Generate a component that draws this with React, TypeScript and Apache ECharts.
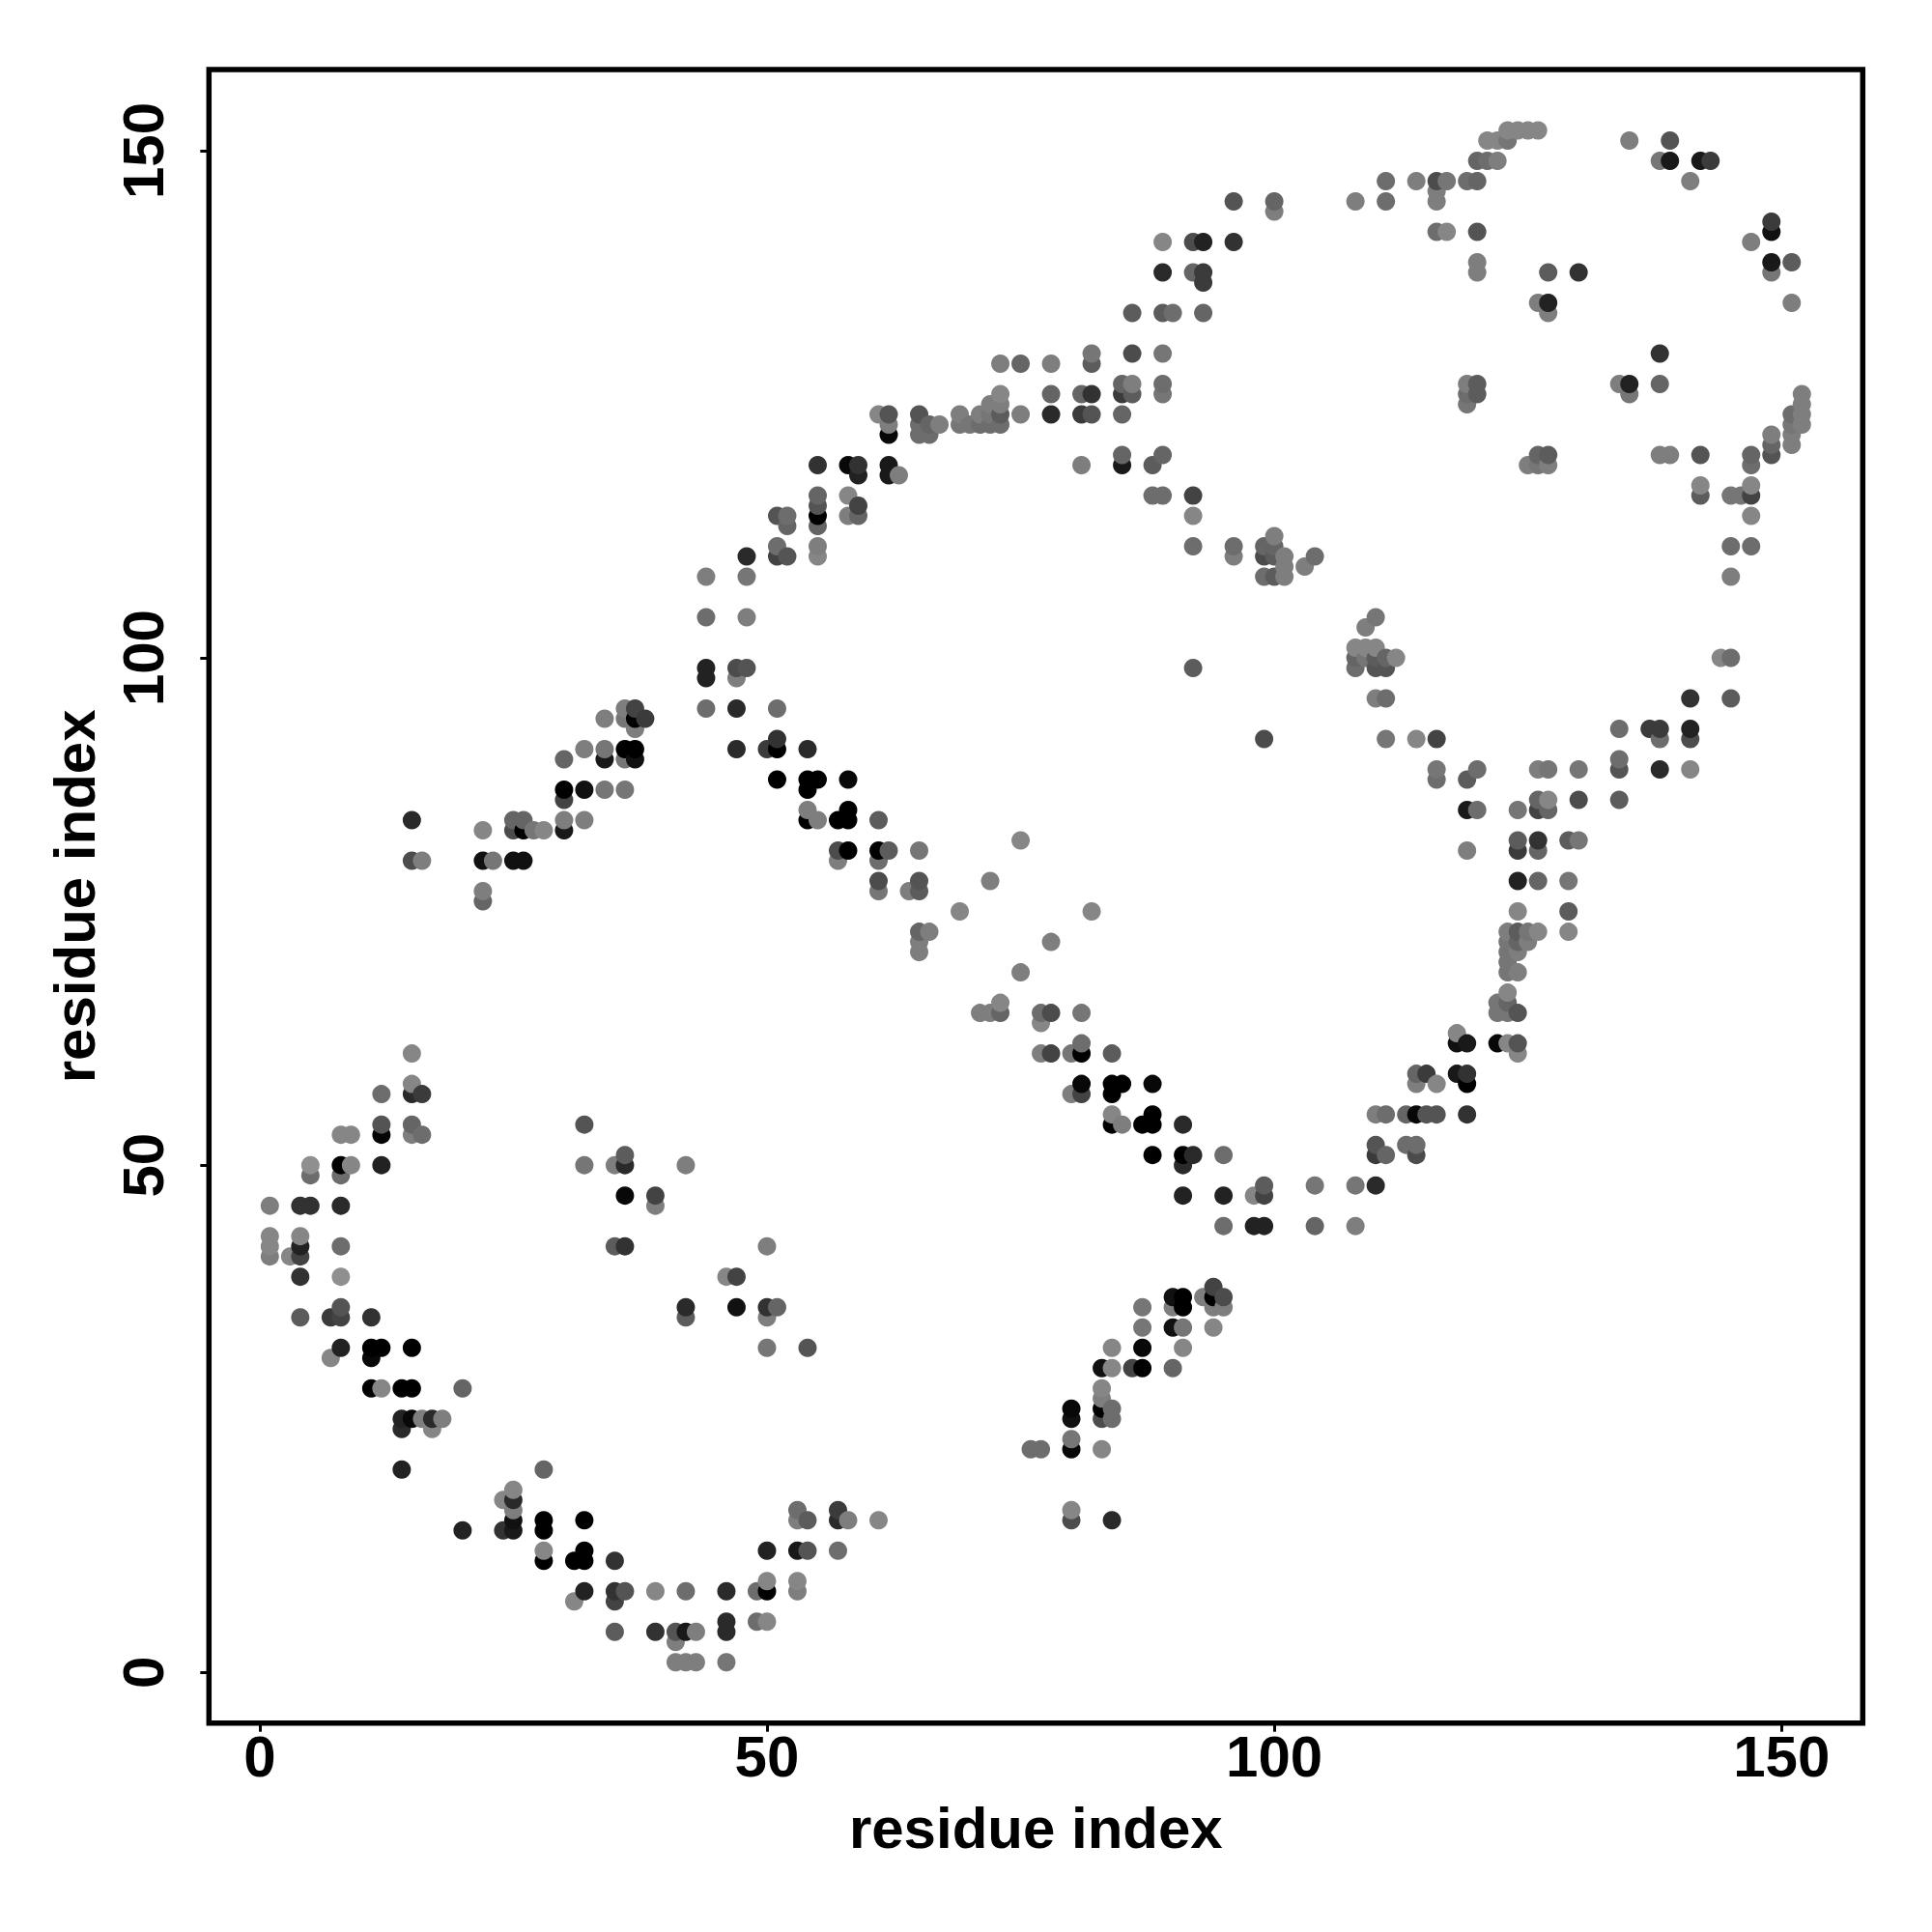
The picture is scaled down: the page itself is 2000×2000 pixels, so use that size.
import React, { useEffect, useRef } from "react";
import * as echarts from "echarts";

type Contact = [number, number, number]; // residue i, residue j, grey level

const lowerLeftArc: Contact[] = [
  [15,61,0x80],[15,58,0x80],[12,57,0x68],[15,57,0x28],[16,57,0x38],
  [12,54,0x50],[15,54,0x60],[8,53,0x80],[9,53,0x80],[12,53,0x05],[15,53,0x78],[16,53,0x68],
  [5,50,0x88],[8,50,0x00],[9,50,0x80],[12,50,0x20],[5,49,0x68],[8,49,0x68],
  [1,46,0x78],[4,46,0x30],[5,46,0x30],[8,46,0x28],
  [1,43,0x80],[4,43,0x80],[1,42,0x80],[4,42,0x20],[8,42,0x68],[1,41,0x78],[3,41,0x80],[4,41,0x40],
  [4,39,0x30],[8,39,0x88],[8,36,0x50],[4,35,0x58],[7,35,0x38],[8,35,0x40],[11,35,0x30],
  [8,32,0x20],[11,32,0x00],[12,32,0x00],[15,32,0x00],[7,31,0x80],[11,31,0x08],
  [11,28,0x00],[12,28,0x80],[14,28,0x00],[15,28,0x00],[20,28,0x60],
  [14,25,0x20],[15,25,0x08],[16,25,0x78],[17,25,0x28],[18,25,0x78],[14,24,0x28],[17,24,0x80],
  [14,20,0x20],[28,20,0x60],
];

const bottomArc: Contact[] = [
  [25,18,0x80],[24,17,0x80],[25,17,0x28],[25,16,0x78],[25,15,0x10],[28,15,0x00],[32,15,0x00],
  [20,14,0x20],[24,14,0x30],[25,14,0x18],[28,14,0x00],[28,12,0x80],[32,12,0x00],
  [28,11,0x00],[31,11,0x00],[32,11,0x00],[35,11,0x30],
  [32,8,0x20],[35,8,0x30],[36,8,0x50],[39,8,0x80],[42,8,0x68],[31,7,0x80],[35,7,0x40],
  [35,4,0x58],[39,4,0x30],[41,4,0x50],[42,4,0x18],[43,4,0x78],[41,3,0x78],[41,1,0x78],[42,1,0x78],[43,1,0x78],
  [46,8,0x28],[49,8,0x68],[50,8,0x00],[53,8,0x78],[50,9,0x80],[53,9,0x80],
  [46,5,0x28],[49,5,0x68],[50,5,0x80],[46,4,0x28],[46,1,0x70],
  [50,12,0x20],[53,12,0x18],[54,12,0x50],[57,12,0x68],
  [53,16,0x68],[57,16,0x38],[53,15,0x78],[54,15,0x58],[57,15,0x28],[58,15,0x78],[61,15,0x80],
  [80,16,0x80],[80,15,0x48],[84,15,0x28],
];

const innerLeft: Contact[] = [
  [32,54,0x50],[36,51,0x58],[32,50,0x70],[35,50,0x78],[36,50,0x28],[42,50,0x78],
  [36,47,0x08],[39,47,0x40],[39,46,0x78],[35,42,0x58],[36,42,0x30],[50,42,0x78],
  [46,39,0x80],[47,39,0x40],[42,36,0x28],[47,36,0x10],[50,36,0x30],[51,36,0x60],
  [42,35,0x58],[50,35,0x78],[50,32,0x70],[54,32,0x50],
];

const lowerRightArm: Contact[] = [
  [76,22,0x68],[77,22,0x68],[80,22,0x08],[83,22,0x80],[80,23,0x70],
  [80,26,0x08],[80,25,0x10],[83,28,0x80],[83,27,0x78],[83,26,0x00],[84,26,0x68],[83,25,0x48],[84,25,0x68],
  [83,30,0x10],[84,30,0x80],[86,30,0x40],[87,30,0x00],[90,30,0x60],
  [84,32,0x80],[87,32,0x08],[91,32,0x80],[87,34,0x70],[90,34,0x10],[91,34,0x70],[94,34,0x80],
  [87,36,0x70],[90,36,0x78],[91,36,0x00],[90,37,0x10],[91,37,0x00],[93,37,0x78],
  [94,36,0x78],[95,36,0x78],[94,37,0x00],[94,38,0x40],[95,37,0x48],
];

const centralDiagonal: Contact[] = [
  [69,75,0x80],[75,82,0x80],[72,78,0x78],[82,75,0x80],[78,72,0x78],[75,69,0x78],
  [71,65,0x78],[72,65,0x78],[73,65,0x60],[73,66,0x80],[77,65,0x68],[78,65,0x48],[77,64,0x80],[81,65,0x70],
  [81,62,0x68],[77,61,0x78],[78,61,0x40],[80,61,0x70],[81,61,0x00],[84,61,0x58],
  [81,58,0x08],[84,58,0x00],[85,58,0x00],[88,58,0x08],[80,57,0x78],[81,57,0x40],[84,57,0x00],
  [84,55,0x80],[88,55,0x00],[84,54,0x00],[85,54,0x78],[87,54,0x00],[88,54,0x00],[91,54,0x28],
  [88,51,0x00],[91,51,0x00],[92,51,0x28],[95,51,0x68],[91,50,0x28],
  [91,47,0x20],[95,47,0x20],[99,48,0x58],[98,47,0x80],[99,47,0x40],[104,48,0x70],[108,48,0x70],[110,48,0x28],
  [95,44,0x68],[98,44,0x20],[99,44,0x20],[104,44,0x60],[108,44,0x78],
];

const rightArc: Contact[] = [
  [110,104,0x70],[109,103,0x78],[108,101,0x80],[109,101,0x80],[110,101,0x80],
  [108,100,0x60],[109,100,0x70],[110,100,0x58],[111,100,0x60],[112,100,0x80],[144,100,0x80],[145,100,0x68],
  [108,99,0x68],[110,99,0x50],[111,99,0x50],[92,99,0x58],[110,96,0x78],[111,96,0x68],[141,96,0x30],[145,96,0x58],
  [134,93,0x68],[137,93,0x38],[138,93,0x38],[141,93,0x20],
  [99,92,0x48],[111,92,0x70],[114,92,0x80],[116,92,0x40],[138,92,0x68],[141,92,0x48],
  [134,90,0x68],[116,89,0x70],[120,89,0x68],[126,89,0x78],[127,89,0x70],[130,89,0x70],[134,89,0x50],[138,89,0x28],[141,89,0x80],
  [116,88,0x68],[119,88,0x58],[126,86,0x60],[127,86,0x80],[130,86,0x48],[134,86,0x58],
  [119,85,0x18],[120,85,0x68],[124,85,0x70],[126,85,0x40],[127,85,0x60],
  [124,82,0x58],[126,82,0x30],[129,82,0x58],[130,82,0x70],[119,81,0x78],[124,81,0x38],[126,81,0x60],
  [124,78,0x20],[126,78,0x60],[129,78,0x70],[124,75,0x80],[129,75,0x58],
  [123,73,0x78],[124,73,0x58],[125,73,0x70],[126,73,0x80],[129,73,0x80],[123,72,0x70],[124,72,0x60],[125,72,0x78],
  [123,71,0x70],[124,71,0x78],[123,70,0x70],[123,69,0x70],[124,69,0x78],
  [123,67,0x80],[122,66,0x70],[123,66,0x60],[122,65,0x70],[123,65,0x70],[124,65,0x50],
  [118,63,0x80],[118,62,0x10],[119,62,0x18],[122,62,0x08],[123,62,0x80],[124,62,0x50],[124,61,0x80],
  [114,59,0x60],[115,59,0x38],[118,59,0x18],[119,59,0x30],[114,58,0x78],[116,58,0x80],[119,58,0x00],
  [110,55,0x78],[111,55,0x68],[113,55,0x60],[114,55,0x08],[115,55,0x50],[116,55,0x50],[119,55,0x30],
  [110,52,0x50],[113,52,0x68],[114,52,0x68],[110,51,0x38],[111,51,0x60],[114,51,0x48],
];

const topRight: Contact[] = [
  [123,152,0x80],[124,152,0x80],[125,152,0x80],[126,152,0x80],
  [121,151,0x80],[122,151,0x80],[123,151,0x70],[135,151,0x78],[139,151,0x50],
  [120,149,0x60],[121,149,0x68],[122,149,0x78],[138,149,0x70],[139,149,0x18],[142,149,0x18],[143,149,0x38],
  [111,147,0x68],[114,147,0x78],[116,147,0x48],[117,147,0x70],[119,147,0x68],[120,147,0x60],[141,147,0x78],
  [116,146,0x78],[96,145,0x50],[100,145,0x60],[108,145,0x78],[111,145,0x68],[116,145,0x78],[100,144,0x78],
  [149,143,0x38],[116,142,0x68],[117,142,0x80],[120,142,0x50],[149,142,0x10],
  [89,141,0x80],[92,141,0x48],[93,141,0x20],[96,141,0x30],[147,141,0x78],
  [120,139,0x78],[149,139,0x18],[151,139,0x58],
  [89,138,0x28],[92,138,0x60],[93,138,0x38],[120,138,0x78],[127,138,0x58],[130,138,0x30],[149,138,0x70],[93,137,0x38],
  [126,135,0x78],[127,135,0x20],[151,135,0x78],[86,134,0x58],[89,134,0x58],[90,134,0x68],[93,134,0x60],[127,134,0x78],
  [82,130,0x70],[86,130,0x48],[89,130,0x70],[138,130,0x30],[82,129,0x58],
  [85,127,0x60],[86,127,0x78],[89,127,0x68],[119,127,0x78],[120,127,0x58],[134,127,0x78],[135,127,0x20],[138,127,0x60],
  [81,126,0x60],[82,126,0x30],[85,126,0x38],[86,126,0x58],[89,126,0x70],[119,126,0x68],[120,126,0x58],[135,126,0x70],[152,126,0x78],
  [119,125,0x70],[152,125,0x78],[81,124,0x38],[82,124,0x50],[85,124,0x60],[152,124,0x78],[151,124,0x68],
  [151,123,0x70],[152,123,0x78],[149,122,0x78],[151,122,0x78],[149,121,0x60],[151,121,0x78],
  [85,120,0x60],[89,120,0x60],[126,120,0x60],[127,120,0x58],[138,120,0x78],[139,120,0x78],[142,120,0x50],[147,120,0x60],[149,120,0x50],
  [81,119,0x78],[85,119,0x18],[88,119,0x58],[125,119,0x78],[126,119,0x70],[127,119,0x78],[147,119,0x68],
  [142,117,0x80],[147,117,0x80],[88,116,0x68],[89,116,0x68],[92,116,0x40],[142,116,0x58],[145,116,0x70],[146,116,0x70],[147,116,0x40],
  [92,114,0x80],[147,114,0x80],[100,112,0x78],[92,111,0x68],[96,111,0x68],[99,111,0x60],[100,111,0x60],[145,111,0x68],[147,111,0x68],
  [96,110,0x78],[99,110,0x48],[100,110,0x58],[101,110,0x78],[104,110,0x68],[101,109,0x78],[103,109,0x78],
  [99,108,0x68],[100,108,0x58],[101,108,0x78],[145,108,0x78],
];

const upperLeftArc: Contact[] = [
  [73,129,0x78],[75,129,0x60],[78,129,0x78],[73,126,0x80],[78,126,0x60],[72,125,0x78],[73,125,0x78],
  [61,124,0x80],[62,124,0x50],[65,124,0x50],[69,124,0x78],[71,124,0x78],[72,124,0x70],[73,124,0x58],[75,124,0x78],[78,124,0x28],
  [62,123,0x78],[65,123,0x68],[66,123,0x60],[67,123,0x78],[69,123,0x70],[70,123,0x70],[71,123,0x68],[72,123,0x68],[73,123,0x68],
  [62,122,0x08],[65,122,0x68],[66,122,0x68],
  [55,119,0x30],[58,119,0x08],[59,119,0x30],[62,119,0x18],[59,118,0x20],[62,118,0x18],[63,118,0x78],
  [55,116,0x60],[58,116,0x80],[55,115,0x50],[59,115,0x40],[51,114,0x50],[52,114,0x68],[55,114,0x00],[58,114,0x78],[59,114,0x60],
  [52,113,0x60],[55,113,0x60],[51,111,0x68],[55,111,0x78],[48,110,0x28],[51,110,0x40],[52,110,0x50],[55,110,0x80],
  [44,108,0x78],[48,108,0x70],[44,104,0x68],[48,104,0x78],
];

const leftDiagonal: Contact[] = [
  [44,99,0x20],[47,99,0x48],[48,99,0x50],[44,98,0x20],[47,98,0x78],[44,95,0x68],[47,95,0x28],[51,95,0x68],
  [36,95,0x78],[37,95,0x40],[34,94,0x78],[36,94,0x70],[37,94,0x00],[38,94,0x38],[37,93,0x78],
  [32,91,0x78],[34,91,0x70],[36,91,0x00],[37,91,0x00],[30,90,0x60],[34,90,0x18],[36,90,0x70],[37,90,0x10],
  [47,91,0x28],[50,91,0x38],[51,91,0x00],[51,92,0x30],[54,91,0x28],
  [30,87,0x00],[32,87,0x10],[34,87,0x70],[36,87,0x70],[30,86,0x40],
  [51,88,0x00],[54,88,0x00],[55,88,0x00],[58,88,0x08],[54,87,0x00],
  [15,84,0x28],[25,84,0x60],[26,84,0x60],[30,84,0x78],[32,84,0x78],[54,85,0x78],[58,85,0x00],[54,84,0x00],[55,84,0x78],[57,84,0x00],[58,84,0x00],[61,84,0x58],
  [22,83,0x80],[25,83,0x48],[26,83,0x00],[27,83,0x70],[28,83,0x80],[30,83,0x18],
  [15,80,0x48],[16,80,0x78],[22,80,0x10],[23,80,0x70],[25,80,0x10],[26,80,0x10],
  [57,81,0x48],[58,81,0x00],[61,81,0x00],[62,81,0x58],[65,81,0x70],[57,80,0x78],[61,80,0x68],
  [61,78,0x48],[65,78,0x50],[22,77,0x78],[61,77,0x70],[64,77,0x78],[65,77,0x58],[22,76,0x60],
  [65,73,0x60],[66,73,0x78],[65,72,0x78],[65,71,0x78],
];

const contacts: Contact[] = [
  ...lowerLeftArc, ...bottomArc, ...innerLeft, ...lowerRightArm, ...centralDiagonal,
  ...rightArc, ...topRight, ...upperLeftArc, ...leftDiagonal,
].sort((a, b) => a[0] - b[0] || a[1] - b[1]);

const tickValues = [0, 50, 100, 150];
const axisTitle = "residue index";

const FONT = "Liberation Sans";

function axis(extra: object) {
  return {
    type: "value",
    min: -5,
    max: 158,
    name: axisTitle,
    nameLocation: "middle",
    nameTextStyle: { fontFamily: FONT, fontWeight: "bold", fontSize: 60, color: "#000" },
    axisLine: { show: false, onZero: false },
    axisTick: { show: true, length: 9, lineStyle: { color: "#000", width: 3 }, customValues: tickValues },
    splitLine: { show: false },
    ...extra,
  };
}

export default function App() {
  const ref = useRef<HTMLDivElement>(null);
  useEffect(() => {
    const chart = echarts.init(ref.current!, undefined, { renderer: "svg" });
    chart.setOption({
      animation: false,
      backgroundColor: "#fff",
      grid: {
        show: true,
        left: 216.3,
        top: 72,
        width: 1712,
        height: 1711.7,
        borderColor: "#000",
        borderWidth: 5.5,
        backgroundColor: "transparent",
      },
      xAxis: axis({
        nameGap: 79,
        axisLabel: {
          customValues: tickValues,
          margin: 5,
          fontFamily: FONT,
          fontWeight: "bold",
          fontSize: 60,
          color: "#000",
        },
      }),
      yAxis: axis({
        nameGap: 109,
        nameRotate: 90,
        axisLabel: {
          customValues: tickValues,
          rotate: 90,
          margin: 38,
          fontFamily: FONT,
          fontWeight: "bold",
          fontSize: 60,
          color: "#000",
          align: "center",
          verticalAlign: "bottom",
        },
      }),
      series: [
        {
          type: "scatter",
          symbol: "circle",
          symbolSize: 19,
          data: contacts,
          encode: { x: 0, y: 1 },
          itemStyle: {
            opacity: 1,
            color: (p: { value: Contact }) => {
              const g = Math.round(p.value[2] * 1.05);
              return `rgb(${g},${g},${g})`;
            },
          },
        },
      ],
    });
    return () => chart.dispose();
  }, []);
  return (
    <div
      ref={ref}
      style={{ position: "absolute", left: 0, top: 0, width: 2000, height: 2000, background: "#fff" }}
    />
  );
}
